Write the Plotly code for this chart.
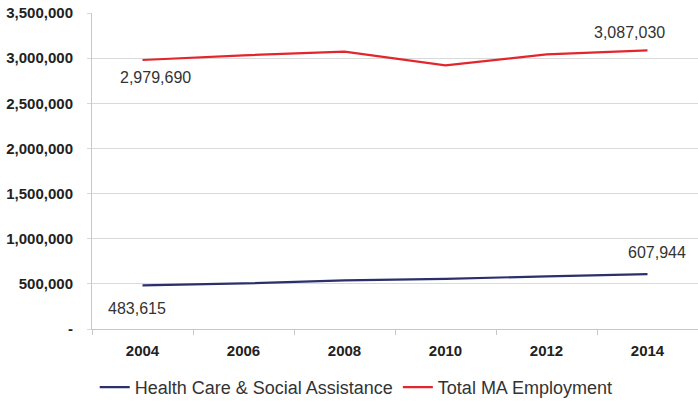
import plotly.graph_objects as go

years = ["2004", "2006", "2008", "2010", "2012", "2014"]
health_care = [483615, 505000, 538000, 555000, 583000, 607944]
total_ma = [2979690, 3031000, 3072000, 2920000, 3042000, 3087030]
y_tickvals = [0, 500000, 1000000, 1500000, 2000000, 2500000, 3000000, 3500000]
y_ticktext = ["-", "500,000", "1,000,000", "1,500,000", "2,000,000", "2,500,000", "3,000,000", "3,500,000"]

NAVY = "#2b2f6b"
RED = "#e3262c"
FONT = "Liberation Sans, Arial, sans-serif"

fig = go.Figure()
fig.add_trace(go.Scatter(x=years, y=health_care, mode="lines",
                         name="Health Care & Social Assistance",
                         line=dict(color=NAVY, width=2.2)))
fig.add_trace(go.Scatter(x=years, y=total_ma, mode="lines",
                         name="Total MA Employment",
                         line=dict(color=RED, width=2.2)))

def lab(i, series, xs, ys):
    fig.add_annotation(x=i, y=series[i], xref="x", yref="y", text=f"{series[i]:,}",
                       showarrow=False, xshift=xs, yshift=ys,
                       font=dict(family=FONT, size=16, color="#333333"))

last = len(years) - 1
lab(0, total_ma, 13, -18)
lab(last, total_ma, -18, 18)
lab(0, health_care, -6, -23)
lab(last, health_care, 9, 22)

fig.update_layout(
    width=698, height=402,
    margin=dict(l=92, r=0, t=13, b=73, autoexpand=False),
    paper_bgcolor="white", plot_bgcolor="white",
    font=dict(family=FONT, color="#222222"),
    showlegend=True,
    legend=dict(orientation="h", x=0.436, xanchor="center", y=-0.185, yanchor="middle",
                font=dict(family=FONT, size=18, color="#333333"),
                itemwidth=30, tracegroupgap=0),
)
fig.update_xaxes(type="category", categoryorder="array", categoryarray=years,
                 range=[-0.5, len(years) - 0.5],
                 showgrid=False, showline=True, linecolor="#c8c8c8",
                 linewidth=1, ticks="outside", tickson="boundaries", ticklen=5,
                 tickcolor="#c8c8c8", ticklabelstandoff=8,
                 tickfont=dict(family=FONT, size=15, color="#222222", weight="bold"),
                 fixedrange=True)
fig.update_yaxes(range=[0, 3500000], tickvals=y_tickvals, ticktext=y_ticktext,
                 showgrid=True, gridcolor="#d9d9d9", gridwidth=1,
                 showline=True, linecolor="#c8c8c8", linewidth=1,
                 ticks="outside", ticklen=4, tickcolor="#d9d9d9", ticklabelstandoff=11,
                 zeroline=False,
                 tickfont=dict(family=FONT, size=15, color="#222222", weight="bold"))

fig.write_html("out.html")
